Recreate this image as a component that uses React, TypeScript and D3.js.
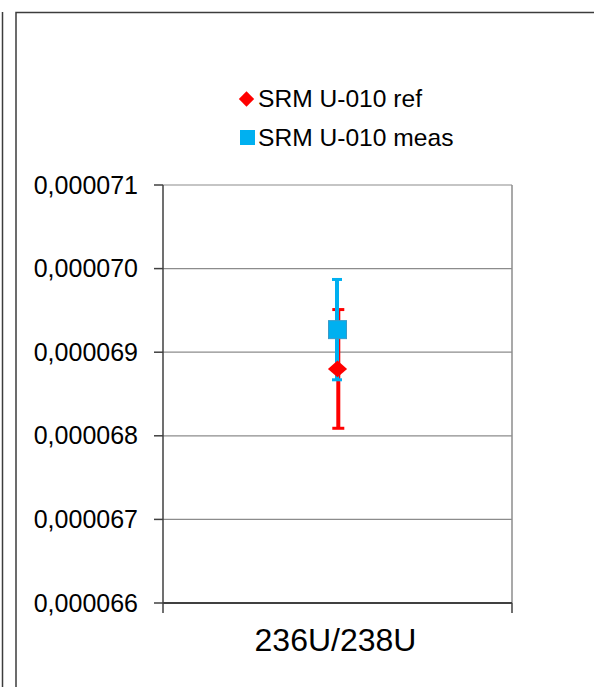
import * as d3 from 'd3';

// chart data
const categories = ['236U/238U'];
const refValues = [0.0000688];
const refErrors = [0.00000071];
const measValues = [0.00006927];
const measErrors = [0.0000006];
const yDomain = [0.000066, 0.000071];
const legendLabels = ['SRM U-010 ref', 'SRM U-010 meas'];

const RED = '#ff0000';
const BLUE = '#00b0f0';
const FONT = '"Liberation Sans", Arial, sans-serif';

const locale = d3.formatLocale({ decimal: ',', thousands: '.', grouping: [3], currency: ['', ''] });
const fmt = locale.format('.6f');

export default function App() {
  const width = 594;
  const height = 687;
  const margin = { top: 185, right: 82, bottom: 84, left: 163 };
  const innerW = width - margin.left - margin.right;
  const innerH = height - margin.top - margin.bottom;

  const x = d3.scaleBand<string>().domain(categories).range([0, innerW]);
  const y = d3.scaleLinear().domain(yDomain).range([innerH, 0]);
  const yTicks = y.ticks(5);

  const diamond = d3.symbol().type(d3.symbolDiamond2).size(150)();

  const errBar = (cx: number, v: number, e: number, color: string, w: number, capW: number, dx = 0) => (
    <g stroke={color} strokeWidth={w}>
      <line x1={cx + dx} x2={cx + dx} y1={y(v + e)} y2={y(v - e)} />
      <line x1={cx + dx - capW / 2} x2={cx + dx + capW / 2} y1={y(v + e)} y2={y(v + e)} strokeWidth={3} />
      <line x1={cx + dx - capW / 2} x2={cx + dx + capW / 2} y1={y(v - e)} y2={y(v - e)} strokeWidth={3} />
    </g>
  );

  return (
    <svg
      width={width}
      height={height}
      style={{ position: 'absolute', left: 0, top: 0, background: '#fff' }}
      fontFamily={FONT}
    >
      {/* outer frames */}
      <line x1={2.5} x2={2.5} y1={12} y2={height} stroke="#3c3c3c" strokeWidth={1.5} />
      <rect x={16} y={12.5} width={width} height={height} fill="none" stroke="#3c3c3c" strokeWidth={1.5} />

      {/* legend */}
      <g fontSize={24.6} fill="#000">
        <path d={diamond} transform="translate(246.5,99)" fill={RED} />
        <text x={258} y={106.5}>{legendLabels[0]}</text>
        <rect x={240} y={130} width={15} height={15} fill={BLUE} />
        <text x={258} y={145.5}>{legendLabels[1]}</text>
      </g>

      <g transform={`translate(${margin.left},${margin.top})`}>
        {/* grid */}
        {yTicks.slice(1).map((t) => (
          <line key={t} x1={0} x2={innerW} y1={y(t)} y2={y(t)} stroke="#8c8c8c" strokeWidth={1.2} />
        ))}
        <line x1={innerW} x2={innerW} y1={0} y2={innerH} stroke="#8c8c8c" strokeWidth={1.5} />

        {/* y axis */}
        <line x1={0} x2={0} y1={0} y2={innerH + 10} stroke="#404040" strokeWidth={1.5} />
        {yTicks.map((t) => (
          <g key={`yt-${t}`} transform={`translate(0,${y(t)})`}>
            <line x1={-9} x2={0} stroke="#404040" strokeWidth={1.5} />
            <text x={-25} y={8.5} textAnchor="end" fontSize={25} fill="#000">
              {fmt(t)}
            </text>
          </g>
        ))}

        {/* x axis */}
        <line x1={0} x2={innerW} y1={innerH} y2={innerH} stroke="#404040" strokeWidth={2} />
        <line x1={innerW} x2={innerW} y1={innerH} y2={innerH + 10} stroke="#404040" strokeWidth={1.5} />
        {categories.map((c) => (
          <text
            key={c}
            x={(x(c) ?? 0) + x.bandwidth() / 2 - 2}
            y={innerH + 48}
            textAnchor="middle"
            fontSize={32}
            fill="#000"
          >
            {c}
          </text>
        ))}

        {/* error bars */}
        {categories.map((c, i) => {
          const cx = (x(c) ?? 0) + x.bandwidth() / 2;
          return (
            <g key={`eb-${c}`}>
              {errBar(cx, refValues[i], refErrors[i], RED, 4, 12, 0.8)}
              {errBar(cx, measValues[i], measErrors[i], BLUE, 4, 10, -0.5)}
            </g>
          );
        })}

        {/* markers */}
        {categories.map((c, i) => {
          const cx = (x(c) ?? 0) + x.bandwidth() / 2;
          return (
            <g key={`mk-${c}`}>
              <path d={diamond} transform={`translate(${cx},${y(refValues[i])}) scale(1.25,1.1)`} fill={RED} />
              <rect
                x={cx - 9}
                y={y(measValues[i]) - 9}
                width={18}
                height={18}
                fill={BLUE}
                stroke="#3a9ac8"
                strokeWidth={1}
              />
            </g>
          );
        })}
      </g>
    </svg>
  );
}
